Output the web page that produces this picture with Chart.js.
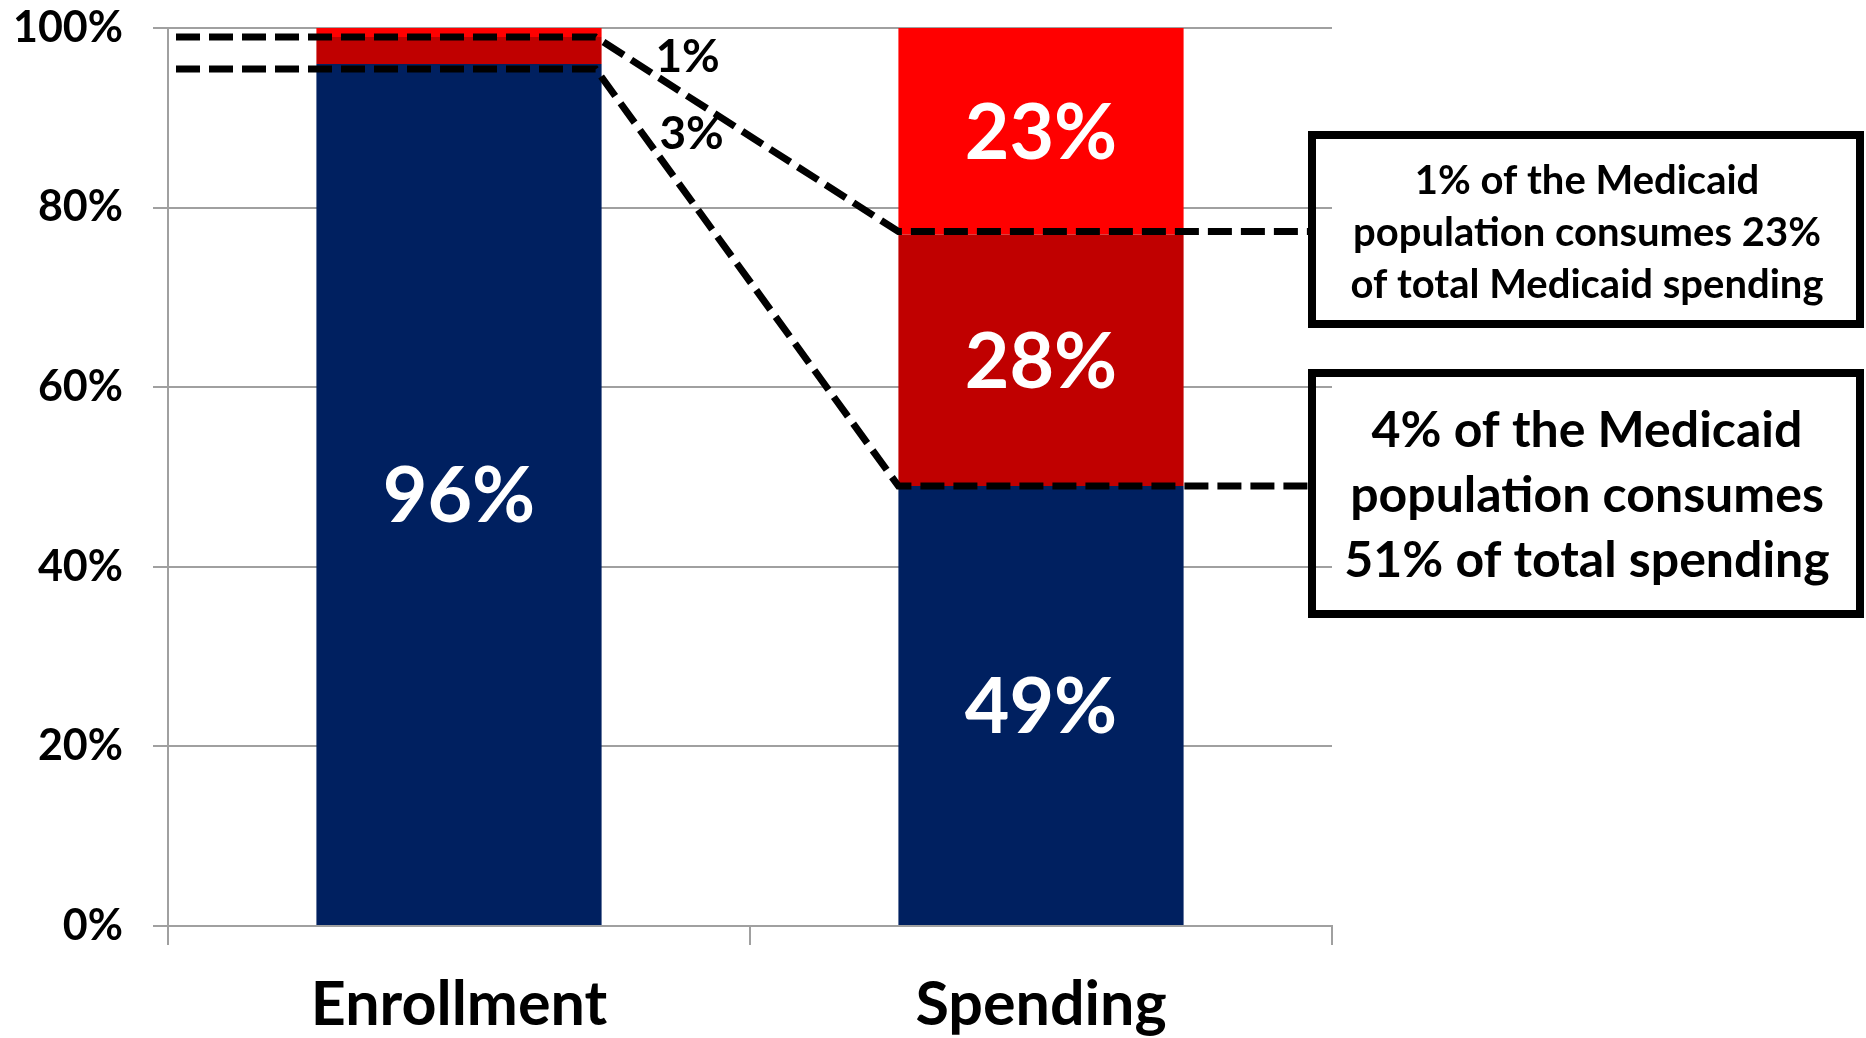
<!DOCTYPE html>
<html><head><meta charset="utf-8">
<script src="https://cdn.jsdelivr.net/npm/chart.js@4.4.1/dist/chart.umd.min.js"></script>
<style>html,body{margin:0;padding:0;background:#fff;overflow:hidden}#wrap{width:1866px;height:1038px;position:relative}</style>
</head><body><div id="wrap"><canvas id="c" width="1866" height="1038"></canvas></div>
<script>
const categories = ['Enrollment', 'Spending'];
const restShare = [96, 49];
const nextShare = [3, 28];
const topShare = [1, 23];
const yTicks = [0, 20, 40, 60, 80, 100];
const box1Lines = ['1% of the Medicaid', 'population consumes 23%', 'of total Medicaid spending'];
const box2Lines = ['4% of the Medicaid', 'population consumes', '51% of total spending'];

const FONT = 'Lato';
const GRID = '#a0a0a0';

const annot = {
  id: 'annot',
  afterDatasetsDraw(chart) {
    const ctx = chart.ctx, ys = chart.scales.y, area = chart.chartArea;
    ctx.save();
    // data labels inside segments
    ctx.fillStyle = '#fff';
    ctx.textAlign = 'center';
    ctx.textBaseline = 'middle';
    ctx.font = 'bold 77px ' + FONT;
    chart.data.datasets.forEach((ds, di) => {
      const meta = chart.getDatasetMeta(di);
      meta.data.forEach((bar, i) => {
        const v = ds.data[i];
        if (v < 5) return;
        const p = bar.getProps(['x', 'y', 'base'], true);
        ctx.fillText(v + '%', p.x, (p.y + p.base) / 2 + 3);
      });
    });
    // dashed connector lines
    const m0 = chart.getDatasetMeta(0);
    const e = m0.data[0].getProps(['x', 'width'], true);
    const s = m0.data[1].getProps(['x', 'width'], true);
    const eRight = e.x + e.width / 2, sLeft = s.x - s.width / 2;
    const boxLeft = 1308;
    const lvlE1 = restShare[0] + nextShare[0];
    const lvlE2 = restShare[0];
    const lvlS1 = restShare[1] + nextShare[1];
    const lvlS2 = restShare[1];
    ctx.strokeStyle = '#000';
    ctx.lineWidth = 7;
    ctx.setLineDash([24, 9]);
    ctx.beginPath();
    ctx.moveTo(area.left + 8, ys.getPixelForValue(lvlE1));
    ctx.lineTo(eRight - 6, ys.getPixelForValue(lvlE1));
    ctx.lineTo(sLeft, ys.getPixelForValue(lvlS1) - 3);
    ctx.lineTo(boxLeft, ys.getPixelForValue(lvlS1) - 3);
    ctx.stroke();
    ctx.beginPath();
    ctx.moveTo(area.left + 8, ys.getPixelForValue(lvlE2) + 5);
    ctx.lineTo(eRight - 6, ys.getPixelForValue(lvlE2) + 5);
    ctx.lineTo(sLeft, ys.getPixelForValue(lvlS2));
    ctx.lineTo(boxLeft, ys.getPixelForValue(lvlS2));
    ctx.stroke();
    ctx.setLineDash([]);
    // small share labels
    ctx.fillStyle = '#000';
    ctx.font = 'bold 46px ' + FONT;
    ctx.fillText(topShare[0] + '%', eRight + 86, ys.getPixelForValue(97) + 2);
    ctx.fillText(nextShare[0] + '%', eRight + 90, ys.getPixelForValue(88.4) + 2);
    // boxes
    ctx.lineWidth = 8;
    ctx.strokeRect(1312, 135, 548, 189);
    ctx.strokeRect(1312, 373, 548, 241);
    const cx = 1587;
    ctx.font = 'bold 40px ' + FONT;
    box1Lines.forEach((t, i) => ctx.fillText(t, cx, 181 + i * 52));
    ctx.font = 'bold 50px ' + FONT;
    box2Lines.forEach((t, i) => ctx.fillText(t, cx, 431 + i * 65));
    ctx.restore();
  }
};

function draw() {
  new Chart(document.getElementById('c'), {
    type: 'bar',
    data: {
      labels: categories,
      datasets: [
        { label: 'Rest', data: restShare, backgroundColor: '#002060', barPercentage: 0.49, categoryPercentage: 1 },
        { label: 'Next 3%', data: nextShare, backgroundColor: '#c00000', barPercentage: 0.49, categoryPercentage: 1 },
        { label: 'Top 1%', data: topShare, backgroundColor: '#ff0000', barPercentage: 0.49, categoryPercentage: 1 }
      ]
    },
    options: {
      responsive: false,
      animation: false,
      devicePixelRatio: 1,
      layout: { padding: { top: 0, right: 534, left: 0, bottom: 0 } },
      plugins: { legend: { display: false }, tooltip: { enabled: false }, title: { display: false } },
      scales: {
        x: {
          stacked: true,
          afterFit(sc) { sc.height = 112; },
          grid: { offset: true, drawOnChartArea: false, drawTicks: true, tickLength: 19, color: GRID, lineWidth: 2 },
          border: { display: true, color: GRID, width: 2 },
          ticks: { color: '#000', padding: 24, font: { family: FONT, weight: 'bold', size: 61 } }
        },
        y: {
          stacked: true,
          min: 0, max: 100,
          afterFit(sc) { sc.width = 168; sc.paddingTop = 28; sc.paddingBottom = 28; },
          afterBuildTicks(sc) { sc.ticks = yTicks.map(v => ({ value: v })); },
          grid: { color: GRID, lineWidth: 2, tickLength: 15, drawTicks: true },
          border: { display: true, color: GRID, width: 2 },
          ticks: { color: '#000', padding: 30, font: { family: FONT, weight: 'bold', size: 43 }, callback: v => v + '%' }
        }
      }
    },
    plugins: [annot]
  });
}
if (document.fonts && document.fonts.load) {
  Promise.all([document.fonts.load('bold 40px Lato')]).then(draw, draw);
} else { draw(); }
</script></body></html>
